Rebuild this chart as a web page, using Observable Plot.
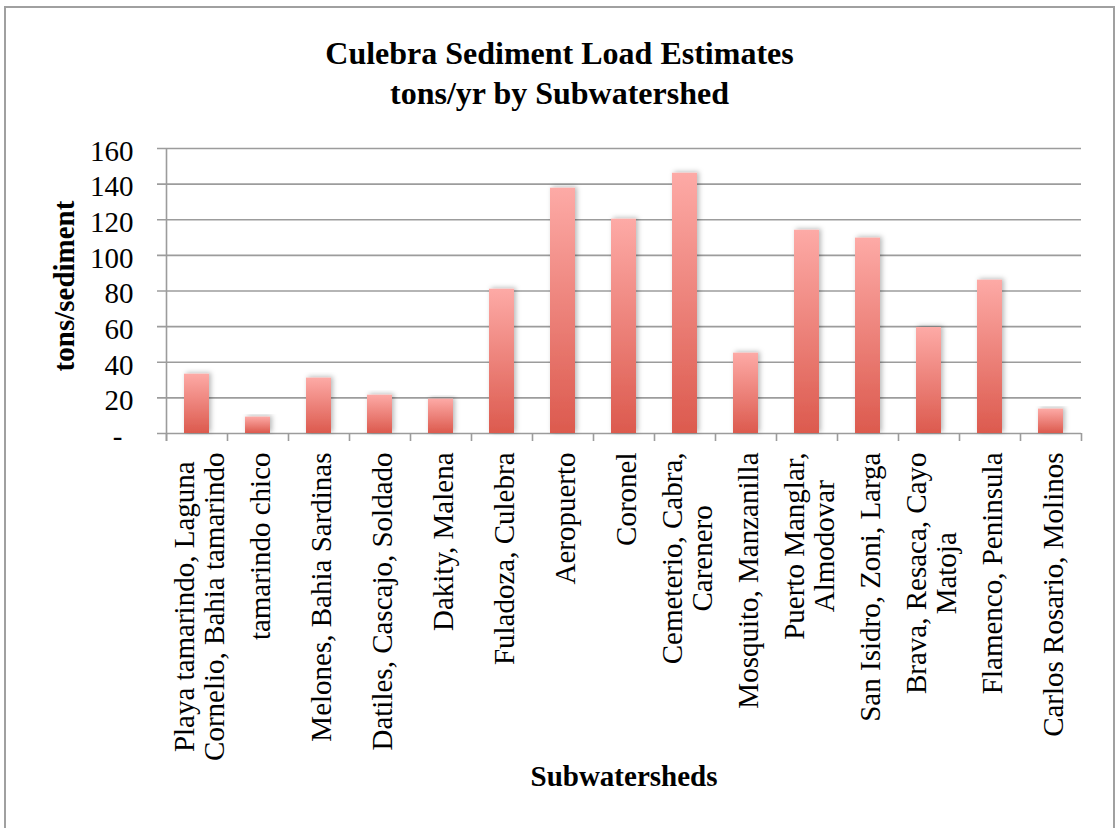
<!DOCTYPE html>
<html>
<head>
<meta charset="utf-8">
<script src="https://cdn.jsdelivr.net/npm/d3@7"></script>
<script src="https://cdn.jsdelivr.net/npm/@observablehq/plot@0.6"></script>
<style>
  body { margin: 0; background: #fff; }
  #wrap { position: relative; width: 1116px; height: 828px; overflow: hidden; background: #fff; }
  #border { position: absolute; left: 4px; top: 6px; width: 1111px; height: 840px; border: 2px solid #a0a0a0; box-sizing: border-box; pointer-events: none; }
  #title { position: absolute; left: 4px; width: 1111px; top: 33px; text-align: center; font: bold 32px 'Liberation Serif', serif; line-height: 40px; color: #000; }
  #chart { position: absolute; left: 0; top: 120px; }
</style>
</head>
<body>
<div id="wrap">
  <div id="title">Culebra Sediment Load Estimates<br>tons/yr by Subwatershed</div>
  <div id="chart"></div>
  <div id="border"></div>
</div>
<script>
// ---- data ----
const categories = [
  "Playa tamarindo, Laguna\nCornelio, Bahia tamarindo",
  "tamarindo chico",
  "Melones, Bahia Sardinas",
  "Datiles, Cascajo, Soldado",
  "Dakity, Malena",
  "Fuladoza, Culebra",
  "Aeropuerto",
  "Coronel",
  "Cemeterio, Cabra,\nCarenero",
  "Mosquito, Manzanilla",
  "Puerto Manglar,\nAlmodovar",
  "San Isidro, Zoni, Larga",
  "Brava, Resaca, Cayo\nMatoja",
  "Flamenco, Peninsula",
  "Carlos Rosario, Molinos"
];
const values = [33.3, 9.2, 31.1, 21.5, 19.3, 81.0, 137.7, 120.3, 146.1, 45.1, 114.1, 109.7, 59.5, 86.1, 13.7];
const yTicks = [0, 20, 40, 60, 80, 100, 120, 140, 160];
const yTickLabels = ["-", "20", "40", "60", "80", "100", "120", "140", "160"];
const yLabel = "tons/sediment";
const xLabel = "Subwatersheds";

const data = categories.map((c, i) => ({cat: c, value: values[i]}));

// ---- layout ----
const W = 1116, H = 708;
const mL = 166, mR = 35, mT = 28, mB = 395;
const step = (W - mL - mR) / categories.length;
const gridColor = "#9c9c9c";
const fontFamily = "'Liberation Serif', serif";
const fs = 29;
const lineGap = 30;

// measure label widths for positioning rotated, center-aligned multi-line labels
const ctx = document.createElement("canvas").getContext("2d");
ctx.font = `${fs}px 'Liberation Serif'`;
const labelMarks = [];
categories.forEach(c => {
  const lines = c.split("\n");
  const w = Math.max(...lines.map(l => ctx.measureText(l).width));
  lines.forEach((line, j) => {
    labelMarks.push(Plot.text([c], {
      x: d => d, text: () => line, frameAnchor: "bottom", rotate: -90,
      textAnchor: "middle", lineAnchor: "middle", fontSize: fs,
      dy: 19 + w / 2, dx: 3 + (j - (lines.length - 1) / 2) * lineGap, fill: "#000"
    }));
  });
});

const chart = Plot.plot({
  width: W, height: H,
  marginLeft: mL, marginRight: mR, marginTop: mT, marginBottom: mB,
  style: {fontFamily, fontSize: fs + "px", color: "#000", background: "transparent", overflow: "visible"},
  x: {type: "band", domain: categories, paddingInner: 0.59, paddingOuter: 0.295, axis: null},
  y: {domain: [0, 160], axis: null},
  marks: [
    Plot.gridY(yTicks, {stroke: gridColor, strokeOpacity: 1, strokeWidth: 1.6, insetLeft: -9}),
    Plot.ruleX([categories[0]], {x: d => d, dx: -step / 2, stroke: gridColor, strokeWidth: 1.6, insetBottom: -8}),
    Plot.axisX(categories, {anchor: "bottom", tickSize: 8, tickFormat: () => "", label: null, dx: -step / 2, stroke: gridColor, strokeWidth: 1.6}),
    Plot.axisX([categories[categories.length - 1]], {anchor: "bottom", tickSize: 8, tickFormat: () => "", label: null, dx: step / 2, stroke: gridColor, strokeWidth: 1.6}),
    Plot.barY(data, {x: "cat", y: "value", fill: "url(#barGrad)"}),
    Plot.axisY(yTicks.slice(1), {anchor: "left", tickSize: 0, tickPadding: 33, label: null, fontSize: fs, dy: 3,
      tickFormat: d => yTickLabels[yTicks.indexOf(d)]}),
    Plot.axisY(yTicks.slice(0, 1), {anchor: "left", tickSize: 0, tickPadding: 44, label: null, fontSize: fs, dy: 3,
      tickFormat: d => yTickLabels[yTicks.indexOf(d)]}),
    ...labelMarks,
    Plot.text([yLabel], {text: d => d, frameAnchor: "left", textAnchor: "middle", lineAnchor: "middle", rotate: -90, fontWeight: "bold", fontSize: fs, dx: -102, dy: -5}),
    Plot.text([xLabel], {text: d => d, frameAnchor: "bottom", textAnchor: "middle", lineAnchor: "middle", fontWeight: "bold", fontSize: fs, dy: 343})
  ]
});

// gradient + shadow definitions for bars
const svg = d3.select(chart);
const defs = svg.insert("defs", ":first-child");
const grad = defs.append("linearGradient").attr("id", "barGrad")
  .attr("x1", 0).attr("y1", 0).attr("x2", 0).attr("y2", 1);
grad.append("stop").attr("offset", 0).attr("stop-color", "#fdaaa6");
grad.append("stop").attr("offset", 1).attr("stop-color", "#dc5a4e");
const filt = defs.append("filter").attr("id", "barShadow")
  .attr("x", "-60%").attr("y", "-10%").attr("width", "220%").attr("height", "120%");
filt.append("feDropShadow").attr("dx", 2).attr("dy", -1).attr("stdDeviation", 2.5)
  .attr("flood-color", "#000").attr("flood-opacity", 0.28);
svg.selectAll("rect").filter(function() { return this.getAttribute("fill") === "url(#barGrad)" || (this.parentNode && this.parentNode.getAttribute("fill") === "url(#barGrad)"); })
  .attr("filter", "url(#barShadow)");

document.getElementById("chart").appendChild(chart);
</script>
</body>
</html>
